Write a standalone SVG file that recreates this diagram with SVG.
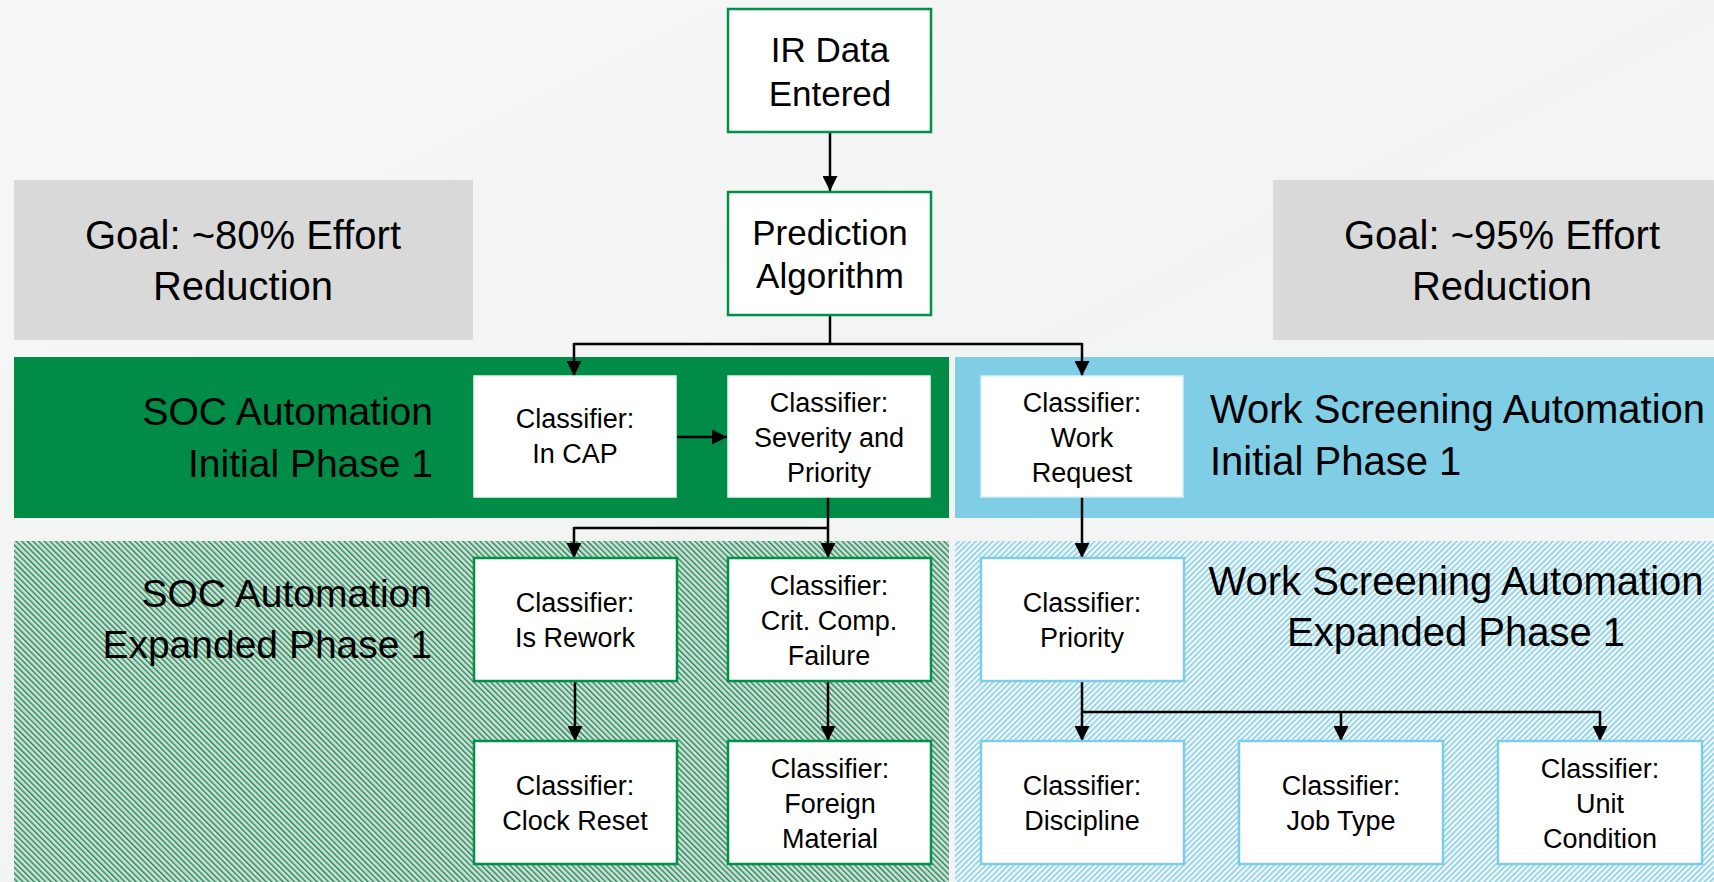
<svg xmlns="http://www.w3.org/2000/svg" width="1714" height="882" viewBox="0 0 1714 882">
<defs>
<linearGradient id="bg" x1="0" y1="0" x2="1" y2="1">
<stop offset="0" stop-color="#f7f7f7"/>
<stop offset="0.5" stop-color="#f2f3f3"/>
<stop offset="1" stop-color="#f6f6f6"/>
</linearGradient>
<pattern id="hatchG" width="4" height="4" patternUnits="userSpaceOnUse" patternTransform="rotate(-45)">
<rect width="4" height="4" fill="#dadada"/>
<rect x="0" y="0" width="1.3" height="4" fill="#00904a"/>
</pattern>
<pattern id="hatchB" width="4" height="4" patternUnits="userSpaceOnUse" patternTransform="rotate(45)">
<rect width="4" height="4" fill="#f4f7f8"/>
<rect x="0" y="0" width="1.5" height="4" fill="#7ecde6"/>
</pattern>
<marker id="arr" viewBox="0 0 10 10" refX="10" refY="5" markerWidth="15" markerHeight="15" markerUnits="userSpaceOnUse" orient="auto">
<path d="M0,0 L10,5 L0,10 z" fill="#000"/>
</marker>
<style>
.t{font-family:"Liberation Sans",Arial,sans-serif;fill:#000}
.big{font-size:35px;text-anchor:middle}
.goal{font-size:40px;text-anchor:middle}
.sec{font-size:39px}
.secw{font-size:40px}
.cl{font-size:27px;text-anchor:middle}
.gbox{fill:#fff;stroke:#00904a;stroke-width:2.5}
.wbox{fill:#fff;stroke:#eef7f0;stroke-width:1.5}
.bbox{fill:#fff;stroke:#7ecde6;stroke-width:2.5}
.wbbox{fill:#fff;stroke:#d8eff7;stroke-width:1.5}
.c{fill:none;stroke:#000;stroke-width:2.5}
.ca{fill:none;stroke:#000;stroke-width:2.5;marker-end:url(#arr)}
</style>
</defs>
<rect width="1714" height="882" fill="url(#bg)"/>

<g id="bands">
<rect id="soc-initial-band" x="14" y="357" width="935" height="161" fill="#008c47"/>
<rect id="ws-initial-band" x="955" y="357" width="759" height="161" fill="#80cde6"/>
<rect id="soc-expanded-band" x="14" y="541" width="935" height="341" fill="url(#hatchG)"/>
<rect id="ws-expanded-band" x="955" y="541" width="759" height="341" fill="url(#hatchB)"/>
</g>

<g id="goal-left">
<rect x="14" y="180" width="459" height="160" fill="#d9d9d9"/>
<text class="t goal" x="243" y="249">Goal: ~80% Effort</text>
<text class="t goal" x="243" y="300">Reduction</text>
</g>
<g id="goal-right">
<rect x="1273" y="180" width="441" height="160" fill="#d9d9d9"/>
<text class="t goal" x="1502" y="249">Goal: ~95% Effort</text>
<text class="t goal" x="1502" y="300">Reduction</text>
</g>

<g id="label-soc-initial">
<text class="t sec" x="433" y="425" text-anchor="end">SOC Automation</text>
<text class="t sec" x="433" y="477" text-anchor="end">Initial Phase 1</text>
</g>
<g id="label-soc-expanded">
<text class="t sec" x="432" y="607" text-anchor="end">SOC Automation</text>
<text class="t sec" x="432" y="658" text-anchor="end">Expanded Phase 1</text>
</g>
<g id="label-ws-initial">
<text class="t secw" x="1210" y="423">Work Screening Automation</text>
<text class="t secw" x="1210" y="475">Initial Phase 1</text>
</g>
<g id="label-ws-expanded">
<text class="t secw" x="1456" y="595" text-anchor="middle">Work Screening Automation</text>
<text class="t secw" x="1456" y="646" text-anchor="middle">Expanded Phase 1</text>
</g>

<g id="connectors">
<path class="ca" d="M830,132 L830,191"/>
<path class="c" d="M830,315 L830,344 M574,344 L1082,344"/>
<path class="ca" d="M574,343 L574,376"/>
<path class="ca" d="M1082,343 L1082,376"/>
<path class="ca" d="M677,437 L727,437"/>
<path class="ca" d="M828,497 L828,558"/>
<path class="c" d="M829,528 L574,528"/>
<path class="ca" d="M574,527 L574,558"/>
<path class="ca" d="M575,682 L575,741"/>
<path class="ca" d="M828,681 L828,741"/>
<path class="ca" d="M1082,497 L1082,558"/>
<path class="ca" d="M1082,681 L1082,741"/>
<path class="c" d="M1082,712 L1600,712"/>
<path class="ca" d="M1341,711 L1341,741"/>
<path class="ca" d="M1600,711 L1600,741"/>
</g>

<g id="ir-data">
<rect class="gbox" x="728" y="9" width="203" height="123"/>
<text class="t big" x="830" y="62">IR Data</text>
<text class="t big" x="830" y="106">Entered</text>
</g>
<g id="prediction">
<rect class="gbox" x="728" y="192" width="203" height="123"/>
<text class="t big" x="830" y="245">Prediction</text>
<text class="t big" x="830" y="288">Algorithm</text>
</g>

<g id="in-cap">
<rect class="wbox" x="474" y="376" width="202" height="121"/>
<text class="t cl" x="575" y="428">Classifier:</text>
<text class="t cl" x="575" y="463">In CAP</text>
</g>
<g id="severity">
<rect class="wbox" x="728" y="376" width="202" height="121"/>
<text class="t cl" x="829" y="412">Classifier:</text>
<text class="t cl" x="829" y="447">Severity and</text>
<text class="t cl" x="829" y="482">Priority</text>
</g>
<g id="work-request">
<rect class="wbbox" x="981" y="376" width="202" height="121"/>
<text class="t cl" x="1082" y="412">Classifier:</text>
<text class="t cl" x="1082" y="447">Work</text>
<text class="t cl" x="1082" y="482">Request</text>
</g>

<g id="is-rework">
<rect class="gbox" x="474" y="558" width="203" height="123"/>
<text class="t cl" x="575" y="612">Classifier:</text>
<text class="t cl" x="575" y="647">Is Rework</text>
</g>
<g id="crit-comp">
<rect class="gbox" x="728" y="558" width="203" height="123"/>
<text class="t cl" x="829" y="595">Classifier:</text>
<text class="t cl" x="829" y="630">Crit. Comp.</text>
<text class="t cl" x="829" y="665">Failure</text>
</g>
<g id="clock-reset">
<rect class="gbox" x="474" y="741" width="203" height="123"/>
<text class="t cl" x="575" y="795">Classifier:</text>
<text class="t cl" x="575" y="830">Clock Reset</text>
</g>
<g id="foreign-material">
<rect class="gbox" x="728" y="741" width="203" height="123"/>
<text class="t cl" x="830" y="778">Classifier:</text>
<text class="t cl" x="830" y="813">Foreign</text>
<text class="t cl" x="830" y="848">Material</text>
</g>

<g id="priority">
<rect class="bbox" x="981" y="558" width="203" height="123"/>
<text class="t cl" x="1082" y="612">Classifier:</text>
<text class="t cl" x="1082" y="647">Priority</text>
</g>
<g id="discipline">
<rect class="bbox" x="981" y="741" width="203" height="123"/>
<text class="t cl" x="1082" y="795">Classifier:</text>
<text class="t cl" x="1082" y="830">Discipline</text>
</g>
<g id="job-type">
<rect class="bbox" x="1239" y="741" width="204" height="123"/>
<text class="t cl" x="1341" y="795">Classifier:</text>
<text class="t cl" x="1341" y="830">Job Type</text>
</g>
<g id="unit-condition">
<rect class="bbox" x="1498" y="741" width="204" height="123"/>
<text class="t cl" x="1600" y="778">Classifier:</text>
<text class="t cl" x="1600" y="813">Unit</text>
<text class="t cl" x="1600" y="848">Condition</text>
</g>
</svg>
